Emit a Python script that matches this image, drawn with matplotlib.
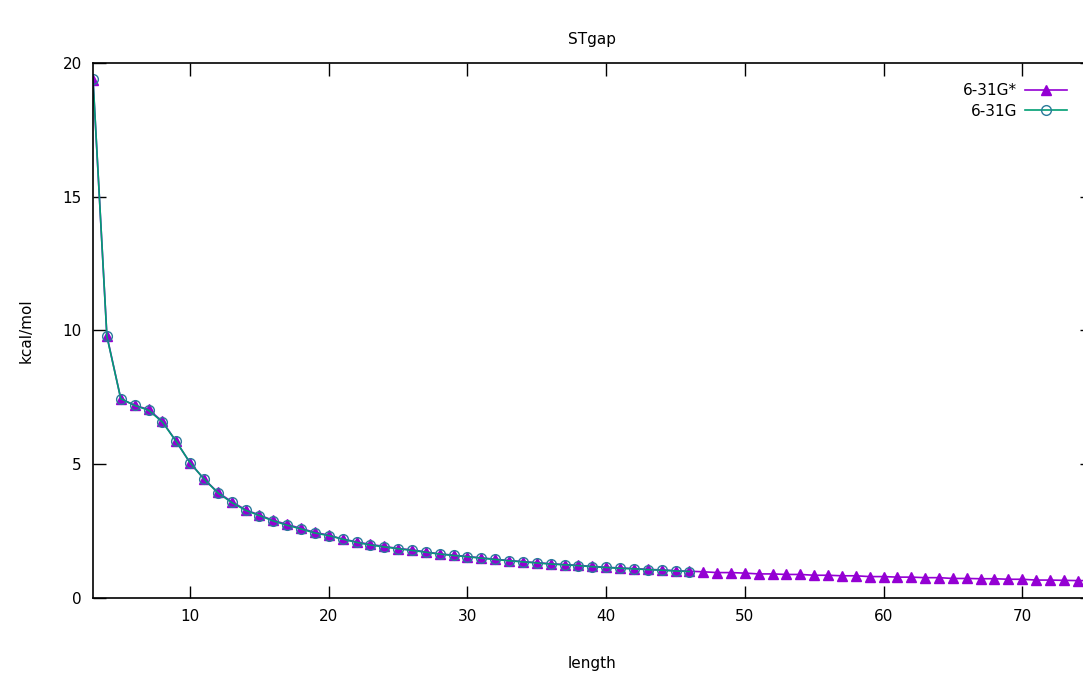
import numpy as np
import matplotlib.pyplot as plt

# singlet-triplet gap vs chain length
length_star = list(range(3, 76))
gap_star = [19.35, 9.8, 7.45, 7.2, 7.05, 6.6, 5.85, 5.05, 4.45, 3.95,
            3.6, 3.3, 3.1, 2.9, 2.75, 2.6, 2.45, 2.35, 2.2, 2.1,
            2.0, 1.93, 1.85, 1.8, 1.72, 1.65, 1.6, 1.55, 1.5, 1.45,
            1.4, 1.36, 1.32, 1.28, 1.25, 1.22, 1.18, 1.15, 1.12, 1.1,
            1.07, 1.05, 1.02, 1.0, 0.98, 0.95, 0.95, 0.93, 0.9, 0.9,
            0.88, 0.88, 0.85, 0.85, 0.83, 0.83, 0.8, 0.8, 0.78, 0.78,
            0.76, 0.76, 0.73, 0.73, 0.72, 0.72, 0.7, 0.7, 0.67, 0.67,
            0.66, 0.65, 0.65]

length_631g = list(range(3, 47))
gap_631g = [19.4, 9.78, 7.45, 7.2, 7.02, 6.58, 5.85, 5.05, 4.45, 3.93,
            3.57, 3.28, 3.08, 2.88, 2.72, 2.58, 2.43, 2.33, 2.2, 2.08,
            1.98, 1.91, 1.84, 1.78, 1.71, 1.64, 1.59, 1.54, 1.49, 1.44,
            1.39, 1.35, 1.31, 1.27, 1.24, 1.21, 1.17, 1.14, 1.11, 1.09,
            1.06, 1.04, 1.01, 0.99]

plt.rcParams['font.family'] = ['DejaVu Sans']
fig = plt.figure(figsize=(10.83, 6.77), dpi=100)
ax = fig.add_axes([0.0859, 0.1167, 0.922, 0.7903])

ax.plot(length_star, gap_star, '-', color='#9400d3', marker='^',
        markersize=7, lw=1.2, label='6-31G*')
ax.plot(length_631g, gap_631g, '-', color='#009e73', marker='o',
        markersize=7, markerfacecolor='none', markeredgecolor='#2a7a9a',
        lw=1.2, label='6-31G')

ax.set_xlim(3, 75)
ax.set_ylim(0, 20)
ax.set_xticks([10, 20, 30, 40, 50, 60, 70])
ax.set_yticks([0, 5, 10, 15, 20])
ax.tick_params(direction='in', length=9, width=1, top=True, right=True,
               labelsize=11, pad=8)
for s in ax.spines.values():
    s.set_linewidth(1.2)

ax.set_title('STgap', fontsize=11, pad=14)
ax.set_xlabel('length', fontsize=11, labelpad=23)
ax.set_ylabel('kcal/mol', fontsize=11, labelpad=21)

ax.legend(loc='upper right', frameon=False, markerfirst=False, fontsize=11,
          handlelength=2.8, handletextpad=0.5, labelspacing=0.35,
          borderaxespad=0.4, bbox_to_anchor=(0.988, 0.985))

fig.savefig('out.png', dpi=100)
